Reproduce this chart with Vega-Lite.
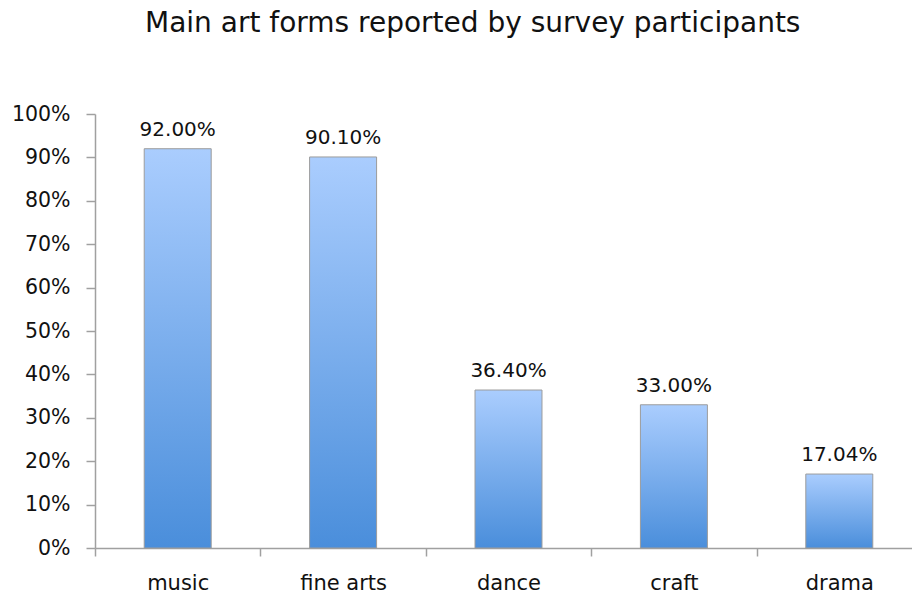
{
  "$schema": "https://vega.github.io/schema/vega-lite/v6.json",
  "autosize": {"type": "none"},
  "padding": {"left": 95, "top": 114, "right": 0, "bottom": 45},
  "width": 817,
  "height": 434,
  "background": "white",
  "title": {
    "text": "Main art forms reported by survey participants",
    "font": "DejaVu Sans",
    "fontSize": 28,
    "fontWeight": "normal",
    "color": "#111111",
    "anchor": "start",
    "frame": "group",
    "dx": 50,
    "baseline": "alphabetic",
    "offset": 44
  },
  "data": {
    "values": [
      {"art": "music", "share": 0.92},
      {"art": "fine arts", "share": 0.901},
      {"art": "dance", "share": 0.364},
      {"art": "craft", "share": 0.33},
      {"art": "drama", "share": 0.1704}
    ]
  },
  "encoding": {
    "x": {
      "field": "art",
      "type": "nominal",
      "sort": null,
      "title": null,
      "scale": {"range": [0, 827], "paddingInner": 0, "paddingOuter": 0},
      "axis": {
        "tickBand": "extent",
        "labelAngle": 0,
        "labelFont": "DejaVu Sans",
        "labelFontSize": 21,
        "labelColor": "#111111",
        "labelPadding": 16,
        "tickSize": 8,
        "tickColor": "#a0a0a0",
        "domainColor": "#a0a0a0",
        "tickWidth": 1.5,
        "domainWidth": 1.5,
        "grid": false
      }
    },
    "y": {
      "field": "share",
      "type": "quantitative",
      "title": null,
      "scale": {"domain": [0, 1], "nice": false},
      "axis": {
        "values": [0, 0.1, 0.2, 0.3, 0.4, 0.5, 0.6, 0.7, 0.8, 0.9, 1.0],
        "format": ".0%",
        "labelFont": "DejaVu Sans",
        "labelFontSize": 20.5,
        "labelColor": "#111111",
        "labelPadding": 16,
        "tickSize": 9,
        "tickColor": "#a0a0a0",
        "domainColor": "#a0a0a0",
        "tickWidth": 1.5,
        "domainWidth": 1.5,
        "grid": false
      }
    }
  },
  "layer": [
    {
      "mark": {
        "type": "bar",
        "width": {"band": 0.405},
        "stroke": "#9c9c9c",
        "strokeWidth": 1,
        "fill": {
          "gradient": "linear",
          "x1": 0, "y1": 0, "x2": 0, "y2": 1,
          "stops": [
            {"offset": 0, "color": "#aacdfe"},
            {"offset": 1, "color": "#4a8edb"}
          ]
        }
      }
    },
    {
      "mark": {
        "type": "text",
        "font": "DejaVu Sans",
        "fontSize": 20,
        "color": "#111111",
        "baseline": "alphabetic",
        "dy": -13
      },
      "encoding": {
        "text": {"field": "share", "type": "quantitative", "format": ".2%"}
      }
    }
  ],
  "config": {"view": {"stroke": null}}
}
